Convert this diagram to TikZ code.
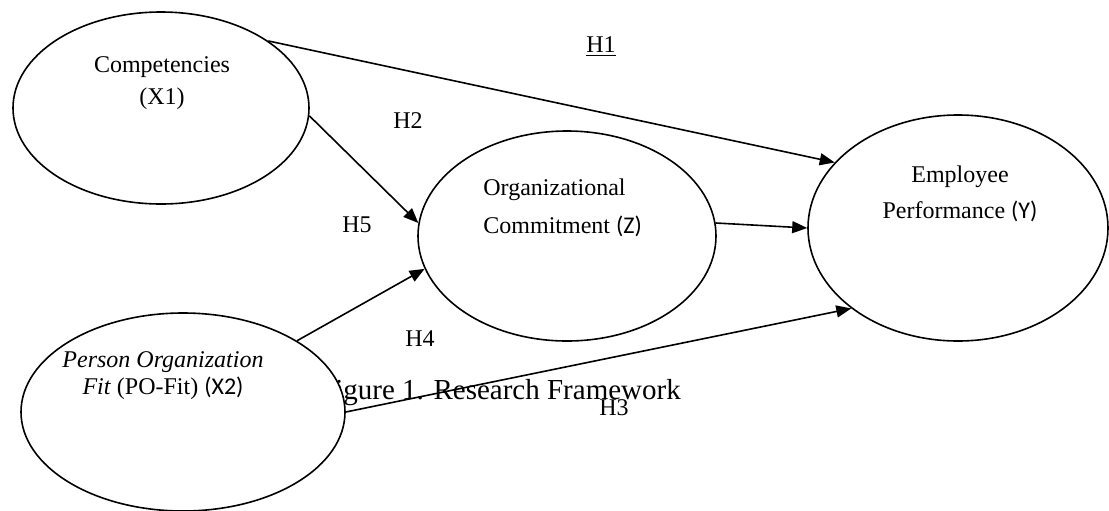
\documentclass[tikz,border=0pt]{standalone}
\usepackage{fontspec}
\setmainfont{Liberation Serif}
\newfontfamily\calibri{Carlito}
\usetikzlibrary{shapes.geometric, arrows.meta, calc, positioning}

\tikzset{
  var/.style={draw, ellipse, line width=0.8pt, fill=white, inner sep=0pt},
  path/.style={-{Triangle[length=7.5pt,width=6pt]}, line width=0.8pt},
  lbl/.style={font=\fontsize{12}{14}\selectfont, inner sep=0pt}
}

\begin{document}
\begin{tikzpicture}[x=0.5pt, y=-0.5pt]
  \useasboundingbox (0,0) rectangle (1109,510);

  % Caption, partly hidden behind the PO-Fit ellipse
  \node[font=\fontsize{14.5}{17}\selectfont, inner sep=0pt] (cap) at (500,393) {Figure 1. Research Framework};

  % Ellipses for the variables
  \node[var, minimum width=148pt, minimum height=96pt] (x1) at (161,108) {};
  \node[var, minimum width=162pt, minimum height=99pt] (x2) at (183,412) {};
  \node[var, minimum width=149pt, minimum height=105pt] (z) at (567,236) {};
  \node[var, minimum width=150pt, minimum height=113pt] (y) at (958,228) {};

  % Names inside the ellipses
  \node[lbl, align=center, font=\fontsize{12}{16}\selectfont] (x1txt) at (162,83) {Competencies\\(X1)};
  \node[lbl, align=center, font=\fontsize{12}{13.5}\selectfont] (x2txt) at (163,376) {\textit{Person Organization}\\\textit{Fit} (PO-Fit) {\calibri (X2)}};
  \node[lbl, align=left, anchor=west, font=\fontsize{12}{19}\selectfont] (ztxt) at (483,208) {Organizational\\Commitment {\calibri (Z)}};
  \node[lbl, align=center, font=\fontsize{12}{18}\selectfont] (ytxt) at (960,194) {Employee\\Performance {\calibri (Y)}};

  % Paths between the variables
  \draw[path] (x1.32) -- (y.152);
  \draw[path] (x1.-3) -- (z.175);
  \draw[path] (x2.32) -- (z.193);
  \draw[path] (x2.0) -- (y.217);
  \draw[path] (z.5) -- (y.180);

  % Hypothesis labels
  \node[lbl] (h1) at (601,47) {\underline{H1}};
  \node[lbl] (h2) at (408,121) {H2};
  \node[lbl] (h5) at (357,225) {H5};
  \node[lbl] (h4) at (420,339) {H4};
  \node[lbl] (h3) at (614,408) {H3};
\end{tikzpicture}
\end{document}
